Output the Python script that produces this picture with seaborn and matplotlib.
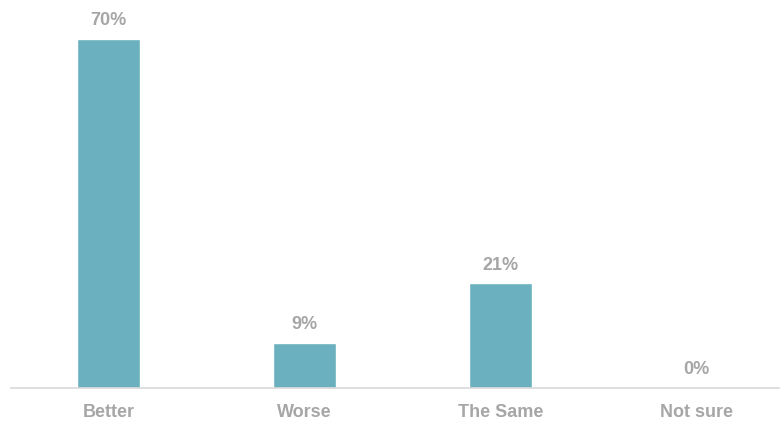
import matplotlib
matplotlib.use("Agg")
import matplotlib.pyplot as plt
import seaborn as sns
import pandas as pd

categories = ["Better", "Worse", "The Same", "Not sure"]
values = [70, 9, 21, 0]
value_labels = ["70%", "9%", "21%", "0%"]

sns.set_style("white")
plt.rcParams["font.family"] = ["Liberation Sans", "DejaVu Sans"]

df = pd.DataFrame({"category": categories, "value": values})

fig = plt.figure(figsize=(7.8, 4.21), dpi=100)
ax = fig.add_axes([10.5 / 780, 1 - 388 / 421, 784 / 780, 388 / 421])

sns.barplot(data=df, x="category", y="value", color="#6ab0bf", saturation=1,
            width=0.32, ax=ax)

ax.set_xlim(-0.5, 3.5)
ax.set_ylim(0, 77.8)

label_color = "#a6a6a6"
for i, (v, lab) in enumerate(zip(values, value_labels)):
    ax.annotate(lab, (i, v), xytext=(0, 7), textcoords="offset points",
                ha="center", va="bottom", fontsize=13, fontweight="bold",
                color=label_color)

for s in ["top", "right", "left"]:
    ax.spines[s].set_visible(False)
ax.spines["bottom"].set_color("#d9d9d9")
ax.spines["bottom"].set_linewidth(1.2)
ax.set_yticks([])
ax.set_xlabel("")
ax.set_ylabel("")
ax.tick_params(axis="x", length=0, pad=11.5, labelsize=13, labelcolor=label_color)
for t in ax.get_xticklabels():
    t.set_fontweight("bold")

fig.savefig("out.png", dpi=100)
